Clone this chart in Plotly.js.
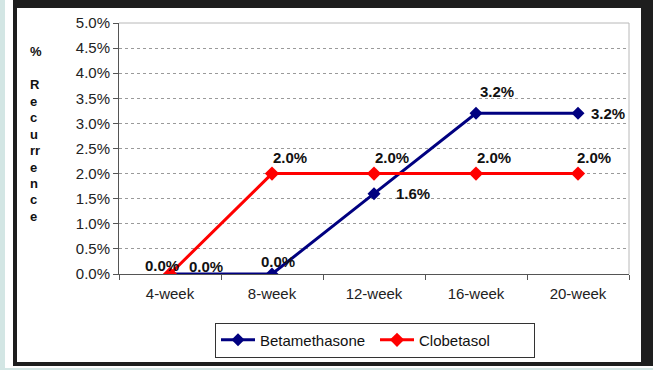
<!DOCTYPE html>
<html>
<head>
<meta charset="utf-8">
<script src="https://cdn.plot.ly/plotly-3.0.1.min.js"></script>
<style>
  html, body { margin: 0; padding: 0; background: #d3e6e4; }
  #wrap { position: absolute; left: 0; top: 0; width: 653px; height: 370px; overflow: hidden; }
  #white { position: absolute; left: 5px; top: 0; width: 648px; height: 368px; background: #ffffff; }
  #frame { position: absolute; left: 13px; top: 0; width: 624px; height: 354px; border-style: solid; border-color: #1e1e1e;
           border-width: 8px 12px 4px 4px; background: #ffffff; }
  #chart { position: absolute; left: 0; top: 0; width: 653px; height: 370px; }
</style>
</head>
<body>
<div id="wrap">
  <div id="white"></div>
  <div id="frame"></div>
  <div id="chart"></div>
</div>
<script>
const categories = ["4-week", "8-week", "12-week", "16-week", "20-week"];
const betamethasone = [0.000, 0.000, 0.016, 0.032, 0.032];
const clobetasol = [0.000, 0.020, 0.020, 0.020, 0.020];
const seriesNames = ["Betamethasone", "Clobetasol"];
const yTitleLines = ["%", "", "R", "e", "c", "u", "rr", "e", "n", "c", "e"];

// label placement offsets (pixels) per point
const betaLabelPos = [
  {xanchor: "left", xshift: 17, yshift: 8},
  {xanchor: "center", xshift: 6, yshift: 13},
  {xanchor: "left", xshift: 20, yshift: 0},
  {xanchor: "left", xshift: 2, yshift: 22},
  {xanchor: "left", xshift: 11, yshift: 0}
];
const clobLabelPos = [
  {xanchor: "right", xshift: 11, yshift: 9},
  {xanchor: "left", xshift: -1, yshift: 16},
  {xanchor: "left", xshift: -1, yshift: 16},
  {xanchor: "left", xshift: -1, yshift: 16},
  {xanchor: "left", xshift: -3, yshift: 16}
];

const FONT = "Liberation Sans, Arial, sans-serif";
const L = 119, R = 629, T = 23, B = 276;
const px = x => (x - L) / (R - L);
const py = y => (B - y) / (B - T);

const fmt = v => (v * 100).toFixed(1) + "%";

const traces = [
  {
    x: categories, y: betamethasone, name: seriesNames[0], type: "scatter", mode: "lines+markers",
    line: {color: "#000080", width: 3},
    marker: {symbol: "diamond", size: 10, color: "#000080"},
    hoverinfo: "none"
  },
  {
    x: categories, y: clobetasol, name: seriesNames[1], type: "scatter", mode: "lines+markers",
    line: {color: "#ff0000", width: 3},
    marker: {symbol: "diamond", size: 11, color: "#ff0000"},
    hoverinfo: "none"
  }
];

const annotations = [];
function addLabels(vals, pos) {
  vals.forEach((v, i) => {
    annotations.push({
      x: categories[i], y: v, xref: "x", yref: "y", text: fmt(v), showarrow: false,
      xanchor: pos[i].xanchor, yanchor: "middle", xshift: pos[i].xshift, yshift: pos[i].yshift,
      font: {family: FONT, size: 15, color: "#111111", weight: "bold"}
    });
  });
}
addLabels(betamethasone, betaLabelPos);
addLabels(clobetasol, clobLabelPos);

const yTitleTop = 52, yTitleStep = 16.6;
yTitleLines.forEach((t, i) => {
  if (!t) return;
  annotations.push({
    x: px(28), y: py(yTitleTop + i * yTitleStep), xref: "paper", yref: "paper",
    text: "<b>" + t + "</b>", showarrow: false, xanchor: "left", yanchor: "middle",
    font: {family: FONT, size: 13, color: "#111111"}
  });
});

const layout = {
  width: 653, height: 370,
  margin: {l: L, r: 653 - R, t: T, b: 370 - B, pad: 0},
  paper_bgcolor: "rgba(0,0,0,0)",
  plot_bgcolor: "#ffffff",
  font: {family: FONT, size: 15, color: "#222222"},
  showlegend: true,
  legend: {
    orientation: "h", x: px(375), xanchor: "center", y: py(325), yanchor: "top",
    bordercolor: "#333333", borderwidth: 1, bgcolor: "#ffffff",
    font: {family: FONT, size: 15, color: "#111111"},
    itemwidth: 34, entrywidth: 110, tracegroupgap: 0
  },
  xaxis: {
    type: "category", range: [-0.5, 4.5], tickson: "boundaries",
    showgrid: false, zeroline: false, showline: true, linecolor: "#555555", linewidth: 1,
    ticks: "outside", ticklen: 5, tickcolor: "#555555", ticklabelstandoff: 6,
    tickfont: {family: FONT, size: 15, color: "#222222"}, fixedrange: true
  },
  yaxis: {
    range: [0, 0.05], dtick: 0.005, tick0: 0, tickformat: ".1%",
    showgrid: true, gridcolor: "#9a9a9a", gridwidth: 1, griddash: "dot",
    zeroline: false, showline: true, linecolor: "#555555", linewidth: 1,
    ticks: "outside", ticklen: 5, tickcolor: "#555555",
    tickfont: {family: FONT, size: 15, color: "#222222"}, fixedrange: true
  },
  shapes: [
    {type: "line", xref: "paper", yref: "paper", x0: 0, x1: 1, y0: 1, y1: 1, line: {color: "#b8b8b8", width: 1}, layer: "below"},
    {type: "line", xref: "paper", yref: "paper", x0: 1, x1: 1, y0: 0, y1: 1, line: {color: "#b8b8b8", width: 1}, layer: "below"}
  ],
  annotations: annotations
};

Plotly.newPlot("chart", traces, layout, {displayModeBar: false, staticPlot: true});
</script>
</body>
</html>
